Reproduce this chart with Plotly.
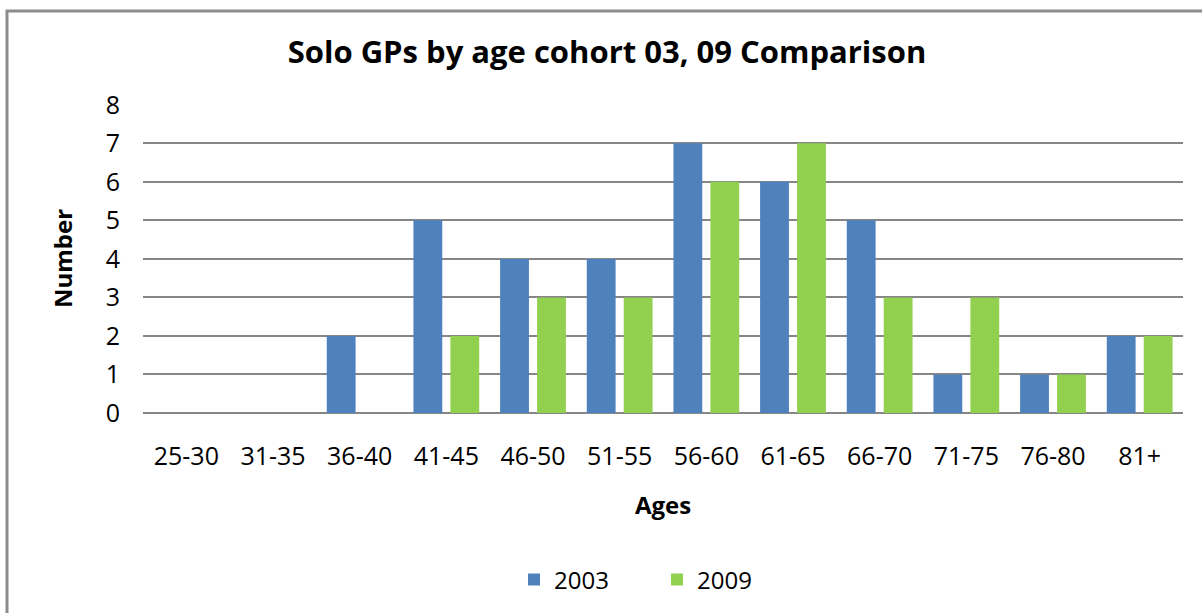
import plotly.graph_objects as go

categories = ["25-30", "31-35", "36-40", "41-45", "46-50", "51-55",
              "56-60", "61-65", "66-70", "71-75", "76-80", "81+"]
values_2003 = [0, 0, 2, 5, 4, 4, 7, 6, 5, 1, 1, 2]
values_2009 = [0, 0, 0, 2, 3, 3, 6, 7, 3, 3, 1, 2]
y_ticks = [0, 1, 2, 3, 4, 5, 6, 7, 8]

W, H = 1202, 613
L, R, T, B = 143, 19, 104, 200
pw, ph = W - L - R, H - T - B

def px_x(p):
    return (p - L) / pw

def px_y(p):
    return (H - B - p) / ph

FONT = "Open Sans, Carlito, Calibri, sans-serif"

fig = go.Figure()
fig.add_trace(go.Bar(x=categories, y=values_2003, name="2003",
                     marker=dict(color="#4F81BD", line=dict(width=0))))
fig.add_trace(go.Bar(x=categories, y=values_2009, name="2009",
                     marker=dict(color="#92D050", line=dict(width=0))))

fig.update_layout(
    width=W, height=H,
    margin=dict(l=L, r=R, t=T, b=B, autoexpand=False),
    paper_bgcolor="white", plot_bgcolor="white",
    barmode="group", bargap=0.147, bargroupgap=0.22,
    font=dict(family=FONT, color="#000000", size=22),
    title=dict(text="<b>Solo GPs by age cohort 03, 09 Comparison</b>",
               xref="container", yref="container",
               x=607 / W, y=1 - 52 / H, xanchor="center", yanchor="middle",
               font=dict(size=31, family=FONT, color="#000000")),
    legend=dict(orientation="h", x=px_x(514), y=px_y(580),
                xanchor="left", yanchor="middle",
                font=dict(size=24, family=FONT), entrywidth=98,
                itemwidth=30),
    showlegend=True,
)
fig.update_xaxes(
    showgrid=False, showline=False, zeroline=False,
    tickfont=dict(size=25, family=FONT, color="#000000"),
    ticklabelstandoff=26,
    title=dict(text="<b>Ages</b>", font=dict(size=24, family=FONT), standoff=26),
)
fig.update_yaxes(
    range=[0, 8.02], tickvals=y_ticks, showgrid=True, gridcolor="#868686", gridwidth=1.5,
    zeroline=True, zerolinecolor="#868686", zerolinewidth=1.5, showline=False,
    tickfont=dict(size=25, family=FONT, color="#000000"),
    ticklabelstandoff=22,
    title=dict(text="<b>Number</b>", font=dict(size=24, family=FONT), standoff=26),
)
fig.add_shape(type="rect", xref="paper", yref="paper",
              x0=px_x(7), x1=px_x(1215), y0=px_y(625), y1=px_y(11),
              line=dict(color="#8C8C8C", width=3), fillcolor="rgba(0,0,0,0)",
              layer="above")

fig.write_html("out.html", config={"displayModeBar": False},
               post_script="document.body.style.margin='0';")
